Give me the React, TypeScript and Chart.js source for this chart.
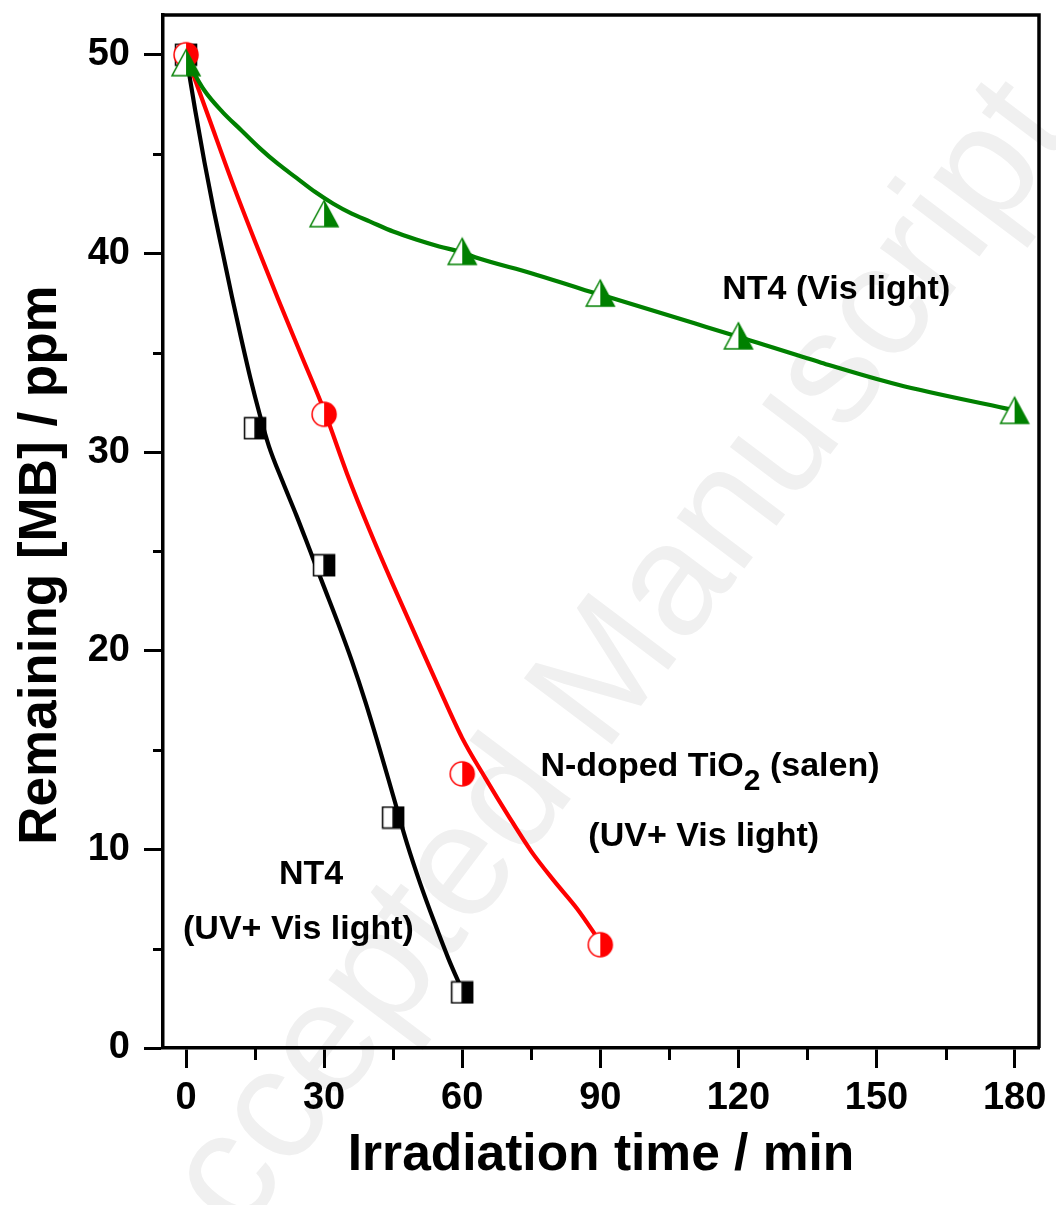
import React, { useEffect, useRef } from "react";
import { Chart, registerables } from "chart.js";

Chart.register(...registerables);

// ---------- data ----------
const blackMarkX = [0, 15, 30, 45, 60];
const blackMarkY = [50, 31.2, 24.3, 11.6, 2.8];
const redMarkX = [0, 30, 60, 90];
const redMarkY = [50, 31.9, 13.8, 5.2];
const greenMarkX = [0, 30, 60, 90, 120, 180];
const greenMarkY = [49.6, 42.0, 40.1, 38.0, 35.85, 32.1];

const blackFitX = [0, 2, 4, 6, 8, 10, 12, 14, 16, 18, 21, 24, 27, 30, 33, 36, 39, 42, 45, 48, 51, 54, 57, 60];
const blackFitY = [50, 47.2, 44.6, 42.2, 40.0, 37.8, 35.7, 33.7, 31.9, 30.3, 28.5, 26.8, 25.0, 23.2, 21.4, 19.5, 17.4, 15.1, 12.7, 10.3, 8.2, 6.3, 4.5, 2.9];

const redFitX = [0, 5, 10, 15, 20, 25, 30, 35, 40, 45, 50, 55, 60, 65, 70, 75, 80, 85, 89.5];
const redFitY = [50, 46.8, 43.6, 40.6, 37.7, 34.9, 32.1, 28.9, 26.0, 23.3, 20.7, 18.1, 15.6, 13.6, 11.7, 9.9, 8.4, 7.0, 5.5];

const greenFitX = [0, 4, 8, 12, 16, 20, 24, 28, 32, 36, 40, 45, 50, 55, 60, 63.5, 75, 86.7, 92.5, 113, 121.4, 138, 154.5, 178, 180];
const greenFitY = [49.8, 48.2, 47.1, 46.2, 45.3, 44.5, 43.8, 43.1, 42.5, 42.0, 41.6, 41.1, 40.7, 40.35, 40.05, 39.75, 39.0, 38.15, 37.75, 36.3, 35.7, 34.5, 33.4, 32.2, 32.1];

const xTicks = [0, 30, 60, 90, 120, 150, 180];
const xMinor = [15, 45, 75, 105, 135, 165];
const yTicks = [0, 10, 20, 30, 40, 50];
const yMinor = [5, 15, 25, 35, 45];

const xTitle = "Irradiation time / min";
const yTitle = "Remaining [MB] / ppm";

const FONT = "'Liberation Sans', Arial, Helvetica, sans-serif";

const pts = (xs: number[], ys: number[]) => xs.map((x, i) => ({ x, y: ys[i] }));

// ---------- marker images ----------
function squareMarker() {
  const c = document.createElement("canvas");
  c.width = 24; c.height = 24;
  const g = c.getContext("2d")!;
  const x0 = 1.5, y0 = 1.5, w = 21, h = 21;
  g.fillStyle = "#fff"; g.fillRect(x0, y0, w, h);
  g.fillStyle = "#000"; g.fillRect(x0 + w / 2, y0, w / 2, h);
  g.strokeStyle = "#000"; g.lineWidth = 1.5;
  g.strokeRect(x0, y0, w, h);
  g.beginPath(); g.moveTo(x0 + w / 2, y0); g.lineTo(x0 + w / 2, y0 + h); g.stroke();
  return c;
}
function circleMarker() {
  const c = document.createElement("canvas");
  c.width = 28; c.height = 28;
  const g = c.getContext("2d")!;
  const r = 12, cx = 14, cy = 14;
  g.fillStyle = "#fff"; g.beginPath(); g.arc(cx, cy, r, 0, Math.PI * 2); g.fill();
  g.fillStyle = "#ff0000"; g.beginPath(); g.moveTo(cx, cy - r); g.arc(cx, cy, r, -Math.PI / 2, Math.PI / 2); g.closePath(); g.fill();
  g.strokeStyle = "#ff0000"; g.lineWidth = 1.5; g.beginPath(); g.arc(cx, cy, r, 0, Math.PI * 2); g.stroke();
  return c;
}
function triangleMarker() {
  const c = document.createElement("canvas");
  c.width = 32; c.height = 30;
  const g = c.getContext("2d")!;
  const col = "#008000";
  g.fillStyle = "#fff";
  g.beginPath(); g.moveTo(16, 2); g.lineTo(30, 28); g.lineTo(2, 28); g.closePath(); g.fill();
  g.fillStyle = col;
  g.beginPath(); g.moveTo(16, 2); g.lineTo(30, 28); g.lineTo(16, 28); g.closePath(); g.fill();
  g.strokeStyle = col; g.lineWidth = 1.5;
  g.beginPath(); g.moveTo(16, 2); g.lineTo(30, 28); g.lineTo(2, 28); g.closePath(); g.stroke();
  return c;
}

// ---------- annotations (data-space anchors, left/baseline) ----------
const annotations = [
  { parts: [{ t: "NT4 (Vis light)" }], x: 116.5, y: 37.7 },
  { parts: [{ t: "N-doped TiO" }, { t: "2", sub: true }, { t: " (salen)" }], x: 77.0, y: 13.7 },
  { parts: [{ t: "(UV+ Vis light)" }], x: 87.4, y: 10.15 },
  { parts: [{ t: "NT4" }], x: 20.2, y: 8.25 },
  { parts: [{ t: "(UV+ Vis light)" }], x: -0.65, y: 5.5 },
];

const watermarkPlugin = {
  id: "watermark",
  beforeDraw(chart: any) {
    const ctx = chart.ctx;
    ctx.save();
    ctx.translate(590, 700);
    ctx.rotate((-53 * Math.PI) / 180);
    ctx.font = `160px ${FONT}`;
    ctx.fillStyle = "#f0f0f0";
    ctx.textAlign = "center";
    ctx.textBaseline = "middle";
    ctx.fillText("Accepted Manuscript", 0, 0);
    ctx.restore();
  },
};

const framePlugin = {
  id: "frame",
  afterDraw(chart: any) {
    const { ctx, chartArea } = chart;
    const xs = chart.scales.x, ys = chart.scales.y;
    ctx.save();
    ctx.strokeStyle = "#000";
    ctx.lineWidth = 3.5;
    ctx.beginPath();
    ctx.moveTo(chartArea.left - 1.75, chartArea.top);
    ctx.lineTo(chartArea.right, chartArea.top);
    ctx.lineTo(chartArea.right, chartArea.bottom);
    ctx.stroke();
    ctx.lineWidth = 3;
    ctx.beginPath();
    for (const v of yMinor) {
      const p = Math.round(ys.getPixelForValue(v)) + 0.5;
      ctx.moveTo(chartArea.left, p); ctx.lineTo(chartArea.left - 10, p);
    }
    for (const v of xMinor) {
      const p = Math.round(xs.getPixelForValue(v)) + 0.5;
      ctx.moveTo(p, chartArea.bottom); ctx.lineTo(p, chartArea.bottom + 12);
    }
    ctx.stroke();
    // y-axis title
    ctx.fillStyle = "#000";
    ctx.save();
    ctx.translate(56, 565);
    ctx.rotate(-Math.PI / 2);
    ctx.font = `bold 53px ${FONT}`;
    ctx.textAlign = "center";
    ctx.textBaseline = "alphabetic";
    ctx.fillText(yTitle, 0, 0);
    ctx.restore();
    // annotations
    ctx.textBaseline = "alphabetic";
    ctx.textAlign = "left";
    for (const a of annotations) {
      let px = xs.getPixelForValue(a.x);
      const py = ys.getPixelForValue(a.y);
      for (const part of a.parts as any[]) {
        ctx.font = part.sub ? `bold 30px ${FONT}` : `bold 34px ${FONT}`;
        ctx.fillText(part.t, px, part.sub ? py + 14 : py);
        px += ctx.measureText(part.t).width;
      }
    }
    ctx.restore();
  },
};

export default function App() {
  const ref = useRef<HTMLCanvasElement | null>(null);
  useEffect(() => {
    document.body.style.margin = "0";
    const canvas = ref.current!;
    const sq = squareMarker(), ci = circleMarker(), tr = triangleMarker();
    const lineDs = (data: any, color: string) => ({
      data, borderColor: color, borderWidth: 4.2, pointRadius: 0, showLine: true,
      cubicInterpolationMode: "monotone" as const, fill: false,
    });
    const markDs = (data: any, img: any) => ({
      data, showLine: false, pointStyle: img, pointRadius: 10, borderWidth: 0,
      backgroundColor: "transparent", borderColor: "transparent",
    });
    const chart = new Chart(canvas, {
      type: "line",
      data: {
        datasets: [
          markDs(pts(greenMarkX, greenMarkY), tr),
          markDs(pts(redMarkX, redMarkY), ci),
          markDs(pts(blackMarkX, blackMarkY), sq),
          lineDs(pts(greenFitX, greenFitY), "#008000"),
          lineDs(pts(redFitX, redFitY), "#ff0000"),
          lineDs(pts(blackFitX, blackFitY), "#000000"),
        ] as any,
      },
      options: {
        animation: false,
        responsive: false,
        events: [],
        layout: { padding: { left: 0, top: 15, right: 17, bottom: 0 } },
        plugins: { legend: { display: false }, tooltip: { enabled: false } },
        scales: {
          x: {
            type: "linear",
            min: -5,
            max: 185.3,
            afterBuildTicks: (s: any) => { s.ticks = xTicks.map((v) => ({ value: v })); },
            afterFit: (s: any) => { s.height = 157; s.paddingLeft = 0; s.paddingRight = 0; },
            grid: { drawOnChartArea: false, drawTicks: true, tickLength: 20, tickWidth: 3, tickColor: "#000" },
            border: { display: true, width: 3.5, color: "#000" },
            ticks: { color: "#000", font: { family: FONT, size: 38, weight: "bold" }, padding: 8, maxRotation: 0, autoSkip: false },
            title: { display: true, text: xTitle, color: "#000", font: { family: FONT, size: 51.5, weight: "bold" }, padding: { top: 0, bottom: 18 } },
          },
          y: {
            type: "linear",
            min: 0,
            max: 52,
            afterBuildTicks: (s: any) => { s.ticks = yTicks.map((v) => ({ value: v })); },
            afterFit: (s: any) => { s.width = 163; s.paddingTop = 0; s.paddingBottom = 0; },
            grid: { drawOnChartArea: false, drawTicks: true, tickLength: 19, tickWidth: 3, tickColor: "#000" },
            border: { display: true, width: 3.5, color: "#000" },
            ticks: { color: "#000", font: { family: FONT, size: 38, weight: "bold" }, padding: 14, autoSkip: false },
            title: { display: false },
          },
        },
      } as any,
      plugins: [watermarkPlugin, framePlugin],
    });
    return () => chart.destroy();
  }, []);
  return (
    <canvas ref={ref} width={1056} height={1205} style={{ display: "block", width: 1056, height: 1205 }} />
  );
}
